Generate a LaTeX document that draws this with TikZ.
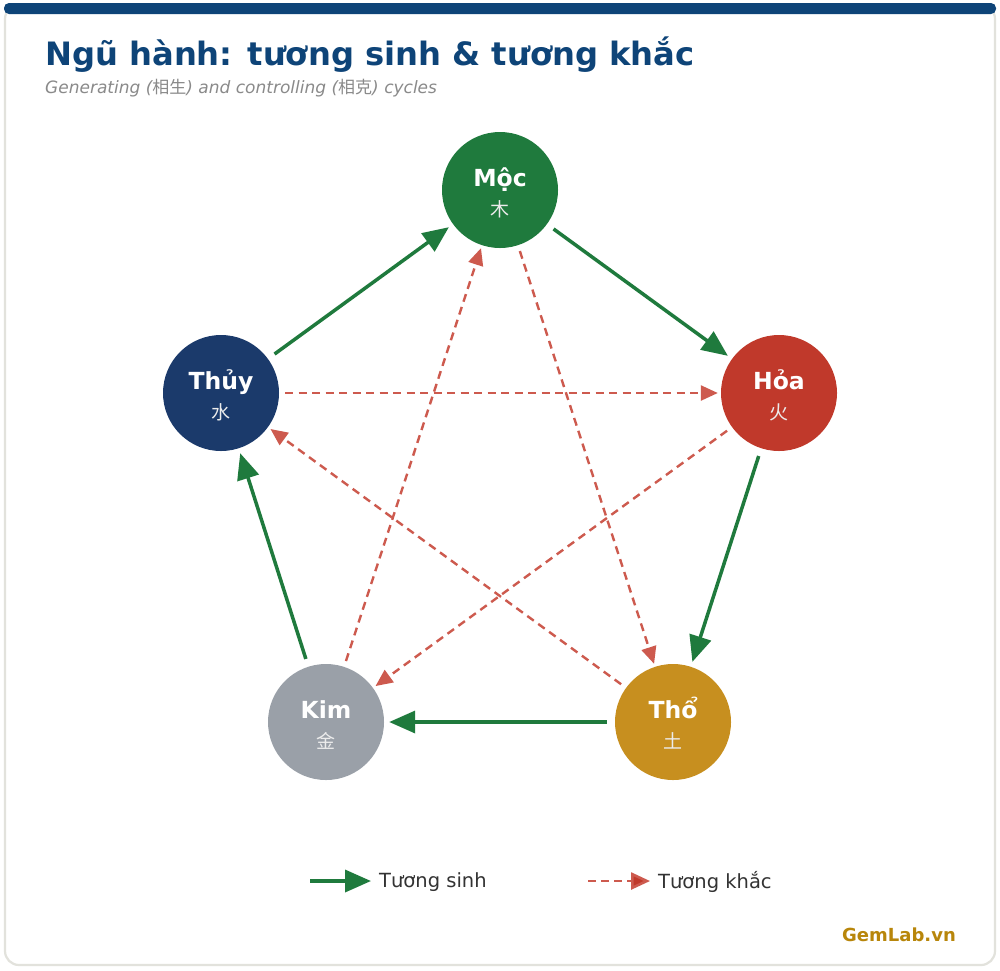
\documentclass[tikz,border=0pt]{standalone}
\usepackage{fontspec}
\setmainfont{DejaVu Sans}
\newfontfamily\cjk{Noto Sans CJK SC}
\usetikzlibrary{arrows.meta}
\definecolor{navy}{HTML}{0E4478}
\definecolor{cardborder}{HTML}{E2E2DC}
\definecolor{mocc}{HTML}{1F7A3D}
\definecolor{hoac}{HTML}{C0392B}
\definecolor{thoc}{HTML}{C78F1F}
\definecolor{kimc}{HTML}{9AA0A8}
\definecolor{thuyc}{HTML}{1B3A6B}
\definecolor{sinhc}{HTML}{1F7A3D}
\definecolor{khacc}{HTML}{CD5A4E}
\definecolor{subc}{HTML}{8A8A8A}
\definecolor{legc}{HTML}{333333}
\definecolor{gemc}{HTML}{B8860B}
\tikzset{
  elem/.style={circle, minimum size=116pt, inner sep=0pt, draw=none},
  ename/.style={anchor=base, text=white, font=\fontsize{23.5}{26}\selectfont\bfseries},
  echar/.style={anchor=center, text=white!85!gray, font=\fontsize{19}{22}\selectfont\cjk},
  sinh/.style={draw=sinhc, line width=3.5pt, -{Triangle[length=26pt,width=22pt]}, shorten <=8pt, shorten >=5pt},
  khac/.style={draw=khacc, line width=2.4pt, dash pattern=on 8pt off 5.5pt, -{Triangle[length=17pt,width=15pt,fill=khacc]}, shorten <=6pt, shorten >=3pt},
}
\begin{document}
\begin{tikzpicture}[x=1pt,y=-1pt]
\useasboundingbox (0,0) rectangle (1000,970);
\fill[white] (0,0) rectangle (1000,970);
% card
\draw[draw=cardborder, line width=2.2pt, fill=white, rounded corners=14pt] (5,5) rectangle (995,965);
\fill[navy, rounded corners=5pt] (4,3) rectangle (996,14);
% title
\node[anchor=base west, inner sep=0pt, text=navy, font=\fontsize{32.2}{38}\selectfont\bfseries] (title) at (45,65) {Ngũ hành: tương sinh \& tương khắc};
\node[anchor=base west, inner sep=0pt, text=subc, font=\fontsize{17}{20}\selectfont\itshape] (subtitle) at (45,93) {Generating ({\cjk 相生}) and controlling ({\cjk 相克}) cycles};
% elements
\node[elem, fill=mocc] (moc) at (500,190) {};
\node[elem, fill=hoac] (hoa) at (779,393) {};
\node[elem, fill=thoc] (tho) at (673,722) {};
\node[elem, fill=kimc] (kim) at (326,722) {};
\node[elem, fill=thuyc] (thuy) at (221,393) {};
\node[ename] (mocT) at (500,186) {Mộc};
\node[echar] (mocC) at (500,209) {木};
\node[ename] (hoaT) at (779,389) {Hỏa};
\node[echar] (hoaC) at (779,412) {火};
\node[ename] (thoT) at (673,718) {Thổ};
\node[echar] (thoC) at (673,741) {土};
\node[ename] (kimT) at (326,718) {Kim};
\node[echar] (kimC) at (326,741) {金};
\node[ename] (thuyT) at (221,389) {Thủy};
\node[echar] (thuyC) at (221,412) {水};
% khac cycle
\draw[khac] (thuy) -- (hoa);
\draw[khac] (moc) -- (tho);
\draw[khac] (tho) -- (thuy);
\draw[khac] (hoa) -- (kim);
\draw[khac] (kim) -- (moc);
% sinh cycle
\draw[sinh] (moc) -- (hoa);
\draw[sinh] (hoa) -- (tho);
\draw[sinh] (tho) -- (kim);
\draw[sinh] (kim) -- (thuy);
\draw[sinh] (thuy) -- (moc);
% legend
\coordinate (l1a) at (310,881);
\coordinate (l1b) at (371,881);
\coordinate (l2a) at (588,881);
\coordinate (l2b) at (650,881);
\draw[draw=sinhc, line width=3.5pt, -{Triangle[length=26pt,width=22pt]}] (l1a) -- (l1b);
\draw[draw=khacc, line width=2.6pt, dash pattern=on 8pt off 5pt, -{Triangle[length=19pt,width=17pt,fill=hoac]}] (l2a) -- (l2b);
\node[anchor=west, inner sep=0pt, text=legc, font=\fontsize{19.5}{22}\selectfont] (leg1) at (379,882) {Tương sinh};
\node[anchor=west, inner sep=0pt, text=legc, font=\fontsize{19.5}{22}\selectfont] (leg2) at (658,882) {Tương khắc};
\node[anchor=base east, inner sep=0pt, text=gemc, font=\fontsize{18}{21}\selectfont\bfseries] (gem) at (956,941) {GemLab.vn};
\end{tikzpicture}
\end{document}
